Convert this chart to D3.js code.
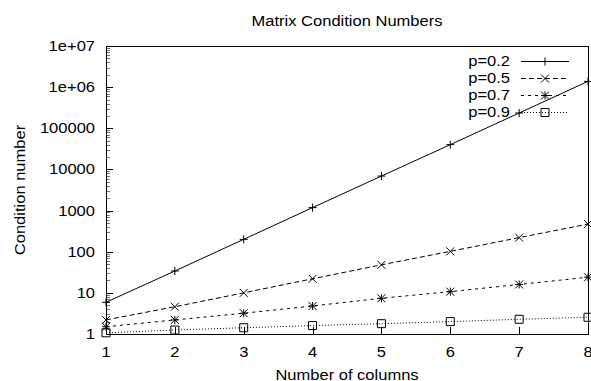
<!DOCTYPE html>
<html>
<head>
<meta charset="utf-8">
<script src="https://cdn.jsdelivr.net/npm/d3@7"></script>
<style>
  html, body { margin: 0; padding: 0; background: #fff; }
  svg { display: block; }
  text { font-family: "Liberation Sans", Arial, Helvetica, sans-serif; font-size: 14.5px; fill: #000; }
</style>
</head>
<body>
<script>
// chart values
const columns = [1, 2, 3, 4, 5, 6, 7, 8];
const p02 = [5.9, 34, 200, 1180, 6900, 40000, 235000, 1380000];
const p05 = [2.2, 4.6, 10, 22, 48, 102, 220, 470];
const p07 = [1.5, 2.2, 3.2, 4.8, 7.4, 10.7, 16, 24];
const p09 = [1.07, 1.25, 1.42, 1.6, 1.78, 2.0, 2.28, 2.55];
const seriesNames = ["p=0.2", "p=0.5", "p=0.7", "p=0.9"];
const yTickValues = [1, 10, 100, 1000, 10000, 100000, 1000000, 10000000];
const yTickLabels = ["1", "10", "100", "1000", "10000", "100000", "1e+06", "1e+07"];

const width = 591, height = 381;
const margin = {top: 46, right: 3, bottom: 47, left: 106};
const sx = 1.14; // glyphs are wider than Liberation Sans

const svg = d3.select("body").append("svg")
  .attr("width", width)
  .attr("height", height);

const x = d3.scaleLinear()
  .domain([1, 8])
  .range([margin.left, width - margin.right]);

const y = d3.scaleLog()
  .domain([1, 1e7])
  .range([height - margin.bottom, margin.top]);

function label(g, tx, ty, str, anchor, rot) {
  return g.append("text")
    .attr("transform", `translate(${tx},${ty})` + (rot ? ` rotate(${rot})` : "") + ` scale(${sx},1)`)
    .attr("text-anchor", anchor)
    .text(str);
}

// ticks
const ticks = svg.append("g")
  .attr("stroke", "#000")
  .attr("stroke-width", 1)
  .attr("shape-rendering", "crispEdges");

let minor = [];
yTickValues.slice(0, -1).forEach(v => {
  for (let k = 2; k < 10; k++) minor.push(v * k);
});

ticks.selectAll(".minor")
  .data(minor).enter()
  .append("line")
  .attr("class", "minor")
  .attr("x1", margin.left)
  .attr("x2", margin.left + 4)
  .attr("y1", d => Math.round(y(d)) + 0.5)
  .attr("y2", d => Math.round(y(d)) + 0.5)
  .attr("stroke-opacity", 0.55);

ticks.selectAll(".ymajor")
  .data(yTickValues).enter()
  .append("line")
  .attr("class", "ymajor")
  .attr("x1", margin.left)
  .attr("x2", margin.left + 7)
  .attr("y1", d => Math.round(y(d)) + 0.5)
  .attr("y2", d => Math.round(y(d)) + 0.5);

ticks.selectAll(".xmajor")
  .data(columns).enter()
  .append("line")
  .attr("class", "xmajor")
  .attr("x1", d => Math.round(x(d)) + 0.5)
  .attr("x2", d => Math.round(x(d)) + 0.5)
  .attr("y1", height - margin.bottom)
  .attr("y2", height - margin.bottom - 7);

// frame
svg.append("rect")
  .attr("x", margin.left + 0.5)
  .attr("y", margin.top + 0.5)
  .attr("width", width - margin.left - margin.right - 0.5)
  .attr("height", height - margin.top - margin.bottom)
  .attr("fill", "none")
  .attr("stroke", "#000")
  .attr("shape-rendering", "crispEdges");

// tick labels
const labels = svg.append("g");
yTickValues.forEach((v, i) => label(labels, margin.left - 11, y(v) + 5, yTickLabels[i], "end"));
columns.forEach(c => label(labels, x(c), 357, String(c), "middle"));

// titles
label(svg, (x(1) + x(8)) / 2, 26, "Matrix Condition Numbers", "middle");
label(svg, (x(1) + x(8)) / 2, 380, "Number of columns", "middle");
label(svg, 25, (y(1) + y(1e7)) / 2, "Condition number", "middle", -90);

// series
const series = [
  {name: seriesNames[0], values: p02, dash: null, mark: "plus"},
  {name: seriesNames[1], values: p05, dash: "5,3", mark: "cross"},
  {name: seriesNames[2], values: p07, dash: "3,4", mark: "star"},
  {name: seriesNames[3], values: p09, dash: "1,2", mark: "box"}
];

const r = 4;
function marker(g, kind, cx, cy) {
  const p = d3.path();
  if (kind === "plus" || kind === "star") {
    p.moveTo(cx - r, cy); p.lineTo(cx + r, cy);
    p.moveTo(cx, cy - r); p.lineTo(cx, cy + r);
  }
  if (kind === "cross" || kind === "star") {
    p.moveTo(cx - r, cy - r); p.lineTo(cx + r, cy + r);
    p.moveTo(cx - r, cy + r); p.lineTo(cx + r, cy - r);
  }
  if (kind === "box") {
    p.rect(cx - r, cy - r, 2 * r, 2 * r);
  }
  g.append("path")
    .attr("d", p.toString())
    .attr("fill", "none")
    .attr("stroke", "#000")
    .attr("stroke-width", 1);
}

const line = d3.line()
  .x((d, i) => x(columns[i]))
  .y(d => y(d));

const plot = svg.append("g");

series.forEach(s => {
  plot.append("path")
    .datum(s.values)
    .attr("d", line)
    .attr("fill", "none")
    .attr("stroke", "#000")
    .attr("stroke-width", 1)
    .attr("stroke-dasharray", s.dash);
  s.values.forEach((v, i) => marker(plot, s.mark, x(columns[i]), y(v)));
});

// legend
const legend = svg.append("g");
series.forEach((s, i) => {
  const ly = 61 + i * 17;
  label(legend, 510, ly + 5, s.name, "end");
  legend.append("line")
    .attr("x1", 521)
    .attr("x2", 569)
    .attr("y1", ly + 0.5)
    .attr("y2", ly + 0.5)
    .attr("stroke", "#000")
    .attr("stroke-dasharray", s.dash);
  marker(legend, s.mark, 545, ly + 0.5);
});
</script>
</body>
</html>
